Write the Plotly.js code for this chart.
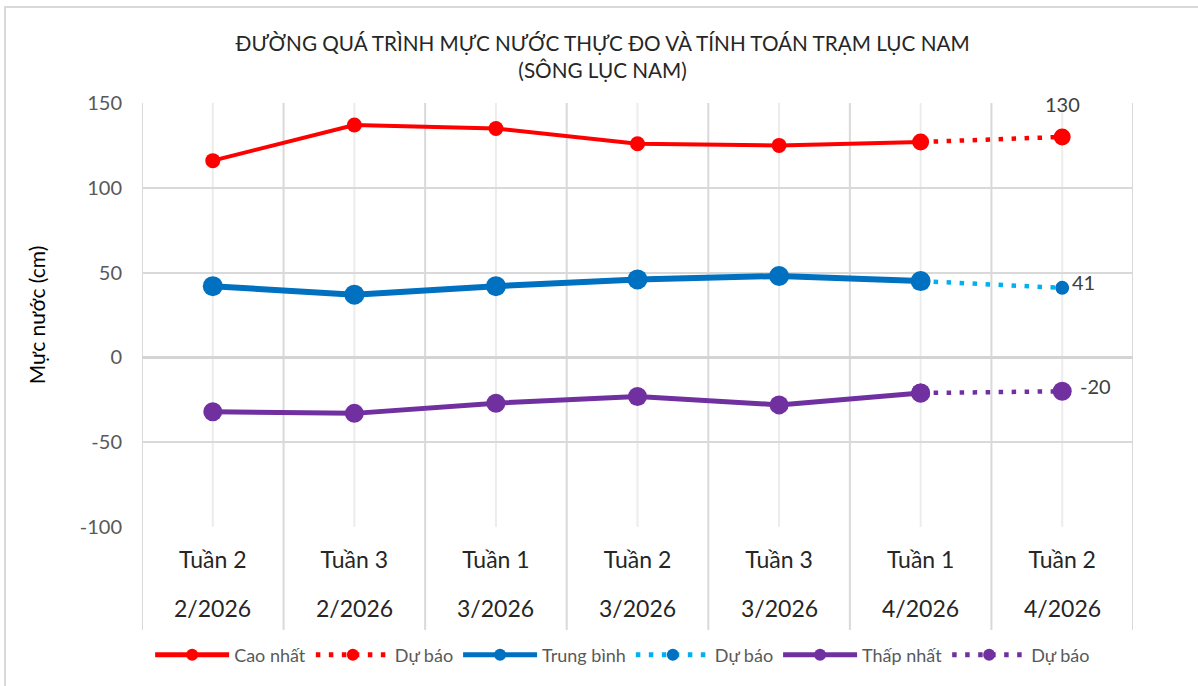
<!DOCTYPE html>
<html>
<head>
<meta charset="utf-8">
<script src="https://cdn.plot.ly/plotly-3.0.1.min.js"></script>
<style>
  body { margin: 0; background: #fff; }
  #wrap { position: relative; width: 1198px; height: 686px; overflow: hidden; }
  #frame { position: absolute; left: 4px; top: 6px; width: 1300px; height: 800px;
           border-left: 2px solid #d9d9d9; border-top: 2px solid #d9d9d9; pointer-events: none; }
  #chart { position: absolute; left: 0; top: 0; width: 1198px; height: 686px; }
</style>
</head>
<body>
<div id="wrap">
  <div id="chart"></div>
  <div id="frame"></div>
</div>
<script>
let weeks = ['Tuần 2', 'Tuần 3', 'Tuần 1', 'Tuần 2', 'Tuần 3', 'Tuần 1', 'Tuần 2']
let months = ['2/2026', '2/2026', '3/2026', '3/2026', '3/2026', '4/2026', '4/2026']

let highObs = [116, 137, 135, 126, 125, 127, null]
let highFc = [null, null, null, null, null, 127, 130]
let meanObs = [42, 37, 42, 46, 48, 45, null]
let meanFc = [null, null, null, null, null, 45, 41]
let lowObs = [-32, -33, -27, -23, -28, -21, null]
let lowFc = [null, null, null, null, null, -21, -20]

let yTicks = [-100, -50, 0, 50, 100, 150]

let cats = weeks.map((w, i) => w + ' ' + months[i])
let font = 'Lato, "Open Sans", sans-serif'
let last = cats.length - 1

function dotLine(color) {
  return {color: color, width: 4.5, dash: '4.5px,8.5px'}
}

// forecast traces go first so the observed markers sit on top of them
let traces = [
  {
    x: cats, y: highFc, name: 'Dự báo', legendrank: 2,
    mode: 'lines+markers',
    line: dotLine('#ff0000'),
    marker: {color: '#ff0000', size: 17}
  },
  {
    x: cats, y: meanFc, name: 'Dự báo', legendrank: 4,
    mode: 'lines+markers',
    line: dotLine('#00b0f0'),
    marker: {color: '#0070c0', size: 14}
  },
  {
    x: cats, y: lowFc, name: 'Dự báo', legendrank: 6,
    mode: 'lines+markers',
    line: dotLine('#7030a0'),
    marker: {color: '#7030a0', size: 19}
  },
  {
    x: cats, y: highObs, name: 'Cao nhất', legendrank: 1,
    mode: 'lines+markers',
    line: {color: '#ff0000', width: 4},
    marker: {color: '#ff0000', size: 15}
  },
  {
    x: cats, y: meanObs, name: 'Trung bình', legendrank: 3,
    mode: 'lines+markers',
    line: {color: '#0070c0', width: 6},
    marker: {color: '#0070c0', size: 20}
  },
  {
    x: cats, y: lowObs, name: 'Thấp nhất', legendrank: 5,
    mode: 'lines+markers',
    line: {color: '#7030a0', width: 5},
    marker: {color: '#7030a0', size: 19}
  }
]

// vertical grid at category centres and boundaries, plus the label table lines
let shapes = []
for (let i = 0; i <= cats.length; i++) {
  shapes.push({type: 'line', layer: 'below', xref: 'x', yref: 'paper',
    x0: i - 0.5, x1: i - 0.5, y0: -0.243, y1: 1,
    line: {color: '#d9d9d9', width: 2}})
}
for (let i = 0; i < cats.length; i++) {
  shapes.push({type: 'line', layer: 'below', xref: 'x', yref: 'paper',
    x0: i, x1: i, y0: 0, y1: 1,
    line: {color: '#ececec', width: 2}})
}

let labelFont = {family: font, size: 20, color: '#404040'}
let annotations = months.map((m, i) => ({
  x: cats[i], xref: 'x', y: -0.191, yref: 'paper',
  text: m, showarrow: false, yanchor: 'middle',
  font: {family: font, size: 23, color: '#262626'}
}))
// data labels on the forecast points
annotations.push({x: cats[last], y: highFc[last], text: String(highFc[last]),
  showarrow: false, yshift: 33, font: labelFont})
annotations.push({x: cats[last], y: meanFc[last], text: String(meanFc[last]),
  showarrow: false, xshift: 21, yshift: 6, font: labelFont})
annotations.push({x: cats[last], y: lowFc[last], text: String(lowFc[last]),
  showarrow: false, xshift: 33, yshift: 5, font: labelFont})

let layout = {
  width: 1198, height: 686,
  margin: {l: 142, r: 65, t: 103, b: 159},
  paper_bgcolor: 'rgba(0,0,0,0)',
  plot_bgcolor: '#fff',
  title: {
    text: 'ĐƯỜNG QUÁ TRÌNH MỰC NƯỚC THỰC ĐO VÀ TÍNH TOÁN TRẠM LỤC NAM<br>(SÔNG LỤC NAM)',
    font: {family: font, size: 20.7, color: '#262626'},
    x: 0.503, xanchor: 'center', y: 0.925, yanchor: 'middle'
  },
  xaxis: {
    type: 'category',
    tickmode: 'array', tickvals: cats, ticktext: weeks,
    range: [-0.5, cats.length - 0.5],
    showgrid: false, zeroline: false, showline: false, ticks: '',
    tickfont: {family: font, size: 23, color: '#262626'},
    ticklabelstandoff: 17
  },
  yaxis: {
    range: [-100, 150],
    tickmode: 'array', tickvals: yTicks, ticktext: yTicks.map(v => String(v)),
    gridcolor: '#d9d9d9', gridwidth: 2,
    zeroline: true, zerolinecolor: '#d4d4d4', zerolinewidth: 3,
    showline: false, ticks: '',
    tickfont: {family: font, size: 20, color: '#595959'},
    ticklabelstandoff: 19,
    title: {text: 'Mực nước (cm)', font: {family: font, size: 21, color: '#000'}, standoff: 28}
  },
  showlegend: true,
  legend: {
    orientation: 'h', x: 0.485, xanchor: 'center', y: -0.302, yanchor: 'middle',
    font: {family: font, size: 18, color: '#595959'},
    itemwidth: 74, itemsizing: 'constant',
    traceorder: 'normal'
  },
  shapes: shapes,
  annotations: annotations
}

Plotly.newPlot('chart', traces, layout, {displayModeBar: false})
</script>
</body>
</html>
